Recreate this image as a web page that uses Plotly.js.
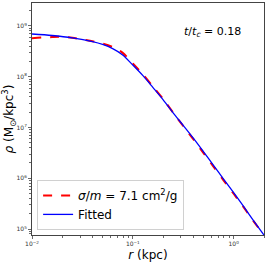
<!DOCTYPE html>
<html><head><meta charset="utf-8">
<script src="https://cdn.plot.ly/plotly-3.0.1.min.js"></script>
<style>html,body{margin:0;padding:0;background:#fff}#c{width:268px;height:262px}</style>
</head><body><div id="c"></div>
<script>
// radius (kpc) and density (Msun/kpc^3)
const rFit = [0.01, 0.0158, 0.0251, 0.0398, 0.0501, 0.0631, 0.0794, 0.1, 0.126, 0.158, 0.2, 0.251, 0.316, 0.398, 0.501, 0.631, 0.794, 1, 1.26, 1.58, 2.0];
const rhoFit = [6.95e8, 6.49e8, 5.82e8, 4.90e8, 4.32e8, 3.59e8, 2.69e8, 1.70e8, 1.05e8, 6.17e7, 3.51e7, 1.95e7, 1.10e7, 6.17e6, 3.35e6, 1.80e6, 9.66e5, 5.19e5, 2.75e5, 1.45e5, 7.59e4];
const rSim = [0.01, 0.0126, 0.0158, 0.02, 0.0251, 0.0316, 0.0398, 0.0501, 0.0631, 0.0794, 0.1, 0.126, 0.158, 0.2, 0.251, 0.316, 0.398, 0.501, 0.631, 0.794, 1, 1.26, 1.58, 2.0];
const rhoSim = [5.71e8, 5.92e8, 6.05e8, 6.11e8, 5.89e8, 5.43e8, 5.01e8, 4.52e8, 3.85e8, 2.95e8, 1.82e8, 1.11e8, 6.46e7, 3.63e7, 1.97e7, 1.07e7, 5.89e6, 3.16e6, 1.70e6, 9.12e5, 4.95e5, 2.66e5, 1.41e5, 7.59e4];
const simLabel = '<i>σ</i>/<i>m</i> = 7.1 cm<sup>2</sup>/g';
const fitLabel = 'Fitted';
const xTickVals = [0.01, 0.1, 1];
const xTickText = ['10<sup>−2</sup>', '10<sup>−1</sup>', '10<sup>0</sup>'];
const yTickVals = [1e5, 1e6, 1e7, 1e8, 1e9];
const yTickText = ['10<sup>5</sup>', '10<sup>6</sup>', '10<sup>7</sup>', '10<sup>8</sup>', '10<sup>9</sup>'];

function minors(lo, hi) {
  const out = [];
  for (let e = lo; e <= hi; e++) for (let k = 2; k <= 9; k++) out.push(k * Math.pow(10, e));
  return out;
}

const traces = [
  {x: rSim, y: rhoSim, mode: 'lines', name: simLabel, line: {color: '#ff0000', width: 2, dash: 'dash', shape: 'spline', smoothing: 0.8}},
  {x: rFit, y: rhoFit, mode: 'lines', name: fitLabel, line: {color: '#0000ff', width: 1.3, shape: 'spline', smoothing: 0.8}}
];

const axisCommon = {
  type: 'log', showgrid: false, zeroline: false, showline: true, mirror: true,
  linecolor: '#444', linewidth: 1, ticks: 'outside', ticklen: 3, tickwidth: 0.8, tickcolor: '#444',
  tickfont: {family: 'DejaVu Sans', size: 6, color: '#333'}
};

const layout = {
  width: 268, height: 262,
  margin: {l: 32, r: 4, t: 3, b: 27},
  paper_bgcolor: '#fff', plot_bgcolor: '#fff',
  showlegend: true,
  xaxis: Object.assign({}, axisCommon, {
    range: [-2, Math.log10(2)], tickmode: 'array', tickvals: xTickVals, ticktext: xTickText,
    minor: {tickmode: 'array', tickvals: minors(-2, 0), ticks: 'outside', ticklen: 2, tickcolor: '#444'},
    title: {text: '<i>r</i> (kpc)', font: {family: 'DejaVu Sans', size: 12, color: '#000'}, standoff: 4}
  }),
  yaxis: Object.assign({}, axisCommon, {
    range: [4.882, 9.453], tickmode: 'array', tickvals: yTickVals, ticktext: yTickText,
    minor: {tickmode: 'array', tickvals: minors(4, 9), ticks: 'outside', ticklen: 2, tickcolor: '#444'},
    title: {text: '<i>ρ</i> (M<sub>⊙</sub>/kpc<sup>3</sup>)', font: {family: 'DejaVu Sans', size: 12, color: '#000'}, standoff: 3}
  }),
  legend: {
    x: 0.022, y: 0.022, xanchor: 'left', yanchor: 'bottom',
    bgcolor: 'rgba(255,255,255,0.8)', bordercolor: '#d0d0d0', borderwidth: 1,
    font: {family: 'DejaVu Sans', size: 12, color: '#000'},
    itemwidth: 30, tracegroupgap: 0
  },
  annotations: [{
    xref: 'paper', yref: 'paper', x: 0.78, y: 0.875, xanchor: 'center', yanchor: 'middle',
    text: '<i>t</i>/<i>t<sub>c</sub></i> = 0.18', showarrow: false,
    font: {family: 'DejaVu Sans', size: 11, color: '#000'}
  }]
};

Plotly.newPlot('c', traces, layout, {displayModeBar: false, staticPlot: true});
</script>
</body></html>
